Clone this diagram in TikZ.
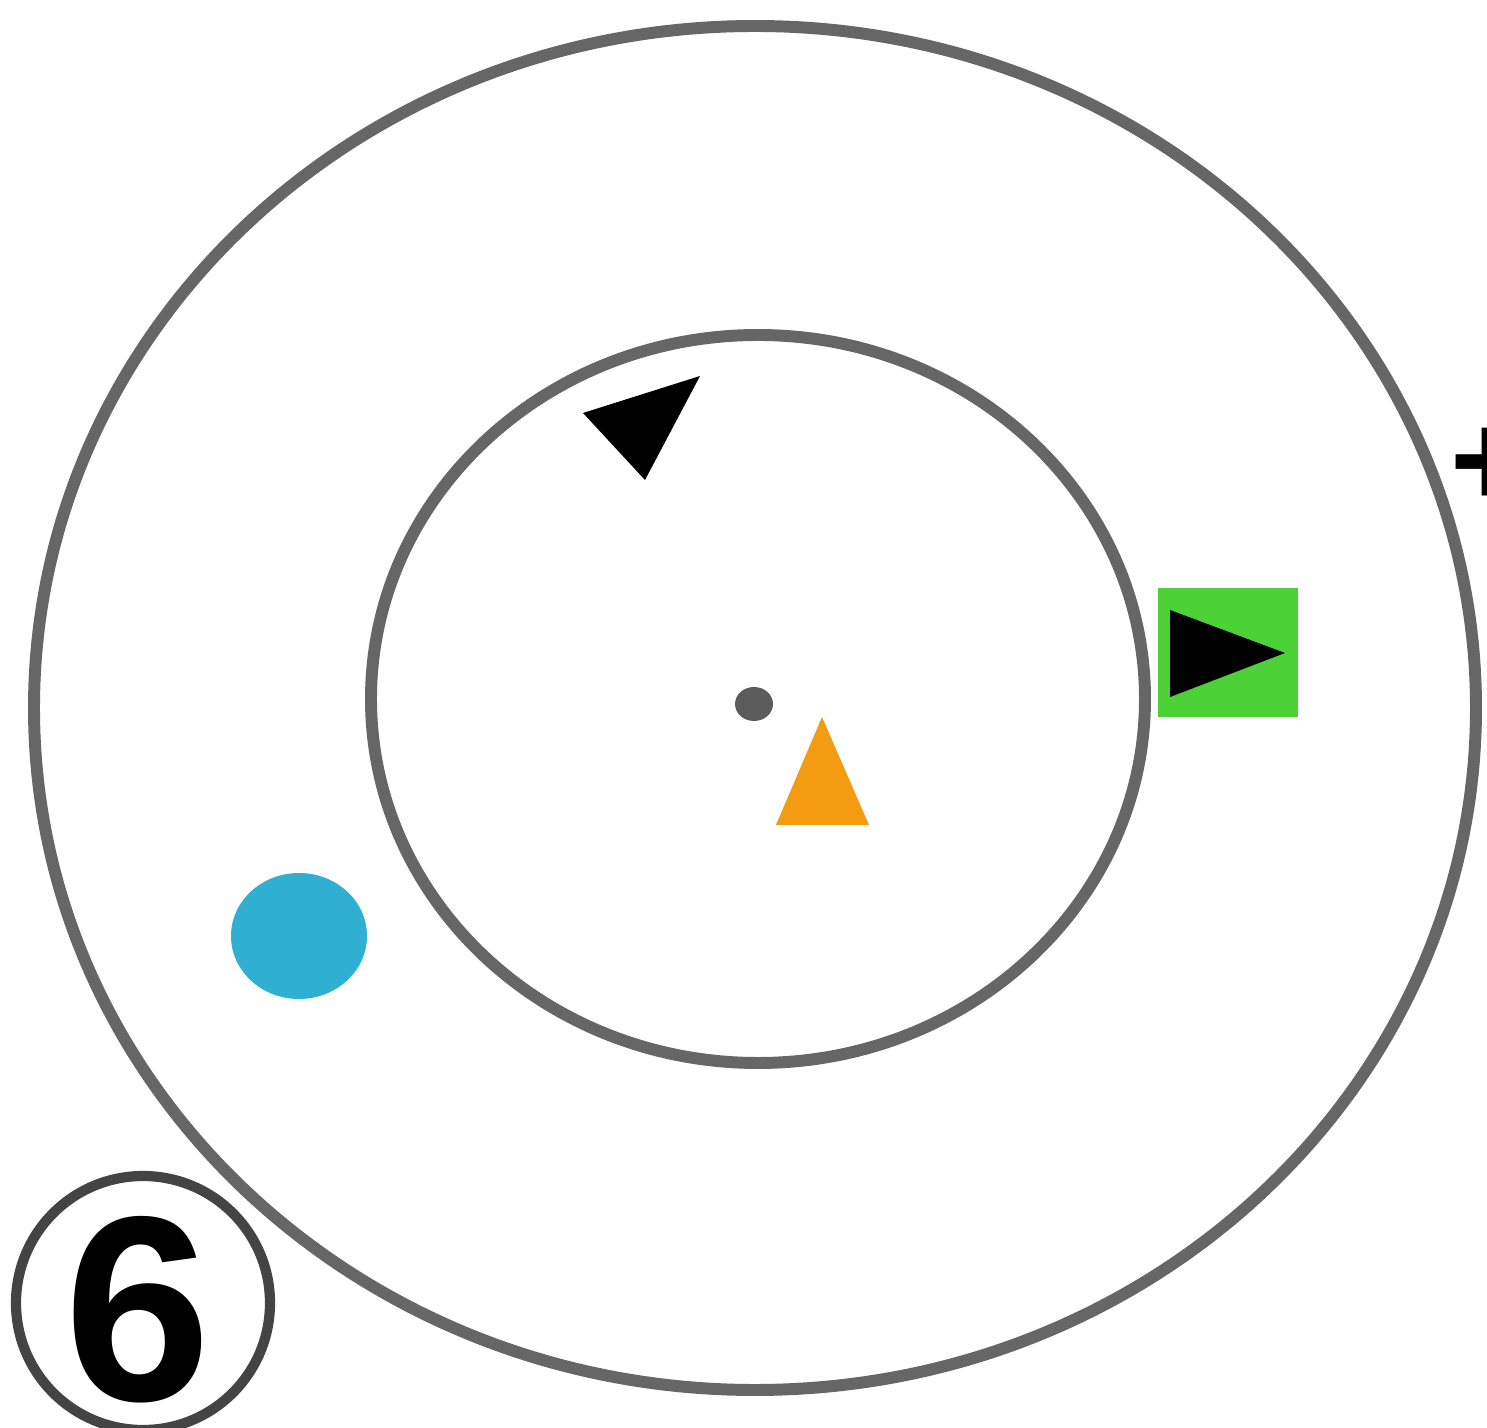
\documentclass[tikz,border=0pt]{standalone}
\usepackage{fontspec}
\setmainfont{Liberation Sans}
\usetikzlibrary{positioning}
\definecolor{rGray}{HTML}{666666}
\definecolor{rDark}{HTML}{444444}
\definecolor{rGreen}{HTML}{4CD137}
\definecolor{rOrange}{HTML}{F39C12}
\definecolor{rBlue}{HTML}{2FB0D3}
\begin{document}
\begin{tikzpicture}[x=0.01cm, y=-0.01cm,
      ring/.style={draw=rGray, line width=3.4pt},
      mark/.style={fill=black},
      badge/.style={draw=rDark, line width=2.9pt}]
    \useasboundingbox (0,0) rectangle (1487,1428);
    % rings
    \draw[ring] (755,708) ellipse (721 and 682);
    \draw[ring] (758,699) ellipse (387 and 364);
    \fill[rGray!90!black] (754,704) ellipse (19 and 17);
    % markers
    \fill[rOrange] (822,717) -- (869,825) -- (776,825) -- cycle;
    \fill[rBlue] (299,936) ellipse (68 and 63);
    \fill[black] (583,413) -- (700,376) -- (645,480) -- cycle;
    \fill[rGreen] (1158,588) rectangle (1298,717);
    \fill[black] (1170,610) -- (1285,653) -- (1170,697) -- cycle;
    % labels
    \draw[badge] (143,1303) circle (127);
    \node[inner sep=0pt] (num6) at (138,1310) {\fontsize{75}{75}\selectfont\bfseries 6};
    \node[inner sep=0pt] (plus) at (1490,467) {\fontsize{38}{38}\selectfont\bfseries +};
  \end{tikzpicture}
\end{document}
